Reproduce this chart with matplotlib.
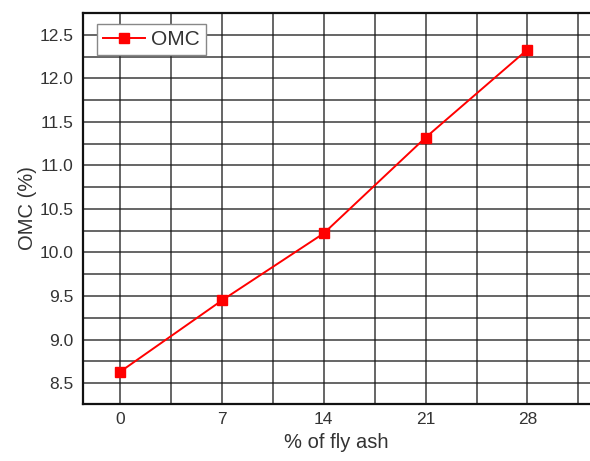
import matplotlib
matplotlib.use('Agg')
import matplotlib.pyplot as plt
from matplotlib.ticker import MultipleLocator

# ── DATA ──
fly_ash = [0, 7, 14, 21, 28]
omc = [8.63, 9.45, 10.22, 11.32, 12.33]
x_ticks = [0, 7, 14, 21, 28]
y_ticks = [8.5, 9.0, 9.5, 10.0, 10.5, 11.0, 11.5, 12.0, 12.5]

RED = '#ff0000'
TXT = '#333333'

plt.rcParams['font.family'] = ['Liberation Sans', 'DejaVu Sans']

fig = plt.figure(figsize=(5.9, 4.61), dpi=100)
ax = fig.add_axes([0.1407, 0.1236, 0.8593, 0.8482])

ax.plot(fly_ash, omc, color=RED, lw=1.4, marker='s', ms=6.5,
        mec=RED, mfc=RED, label='OMC', zorder=5)

ax.set_xlim(-2.55, 32.3)
ax.set_ylim(8.26, 12.75)
ax.set_xticks(x_ticks)
ax.xaxis.set_minor_locator(MultipleLocator(3.5))
ax.yaxis.set_minor_locator(MultipleLocator(0.25))
ax.set_yticks(y_ticks)
ax.set_yticklabels([f'{v:.1f}' for v in y_ticks])

ax.grid(True, which='both', color='#1a1a1a', lw=1.1, alpha=0.85)
ax.set_axisbelow(True)
ax.tick_params(which='both', length=0, labelsize=12.5, colors=TXT)
ax.tick_params(axis='y', pad=7)
ax.tick_params(axis='x', pad=6)

for s in ['left', 'bottom', 'top']:
    ax.spines[s].set_color('#111111')
    ax.spines[s].set_linewidth(1.6)
ax.spines['right'].set_visible(False)

ax.set_xlabel('% of fly ash', fontsize=14.5, color=TXT, labelpad=4)
ax.set_ylabel('OMC (%)', fontsize=14.5, color=TXT, labelpad=2)

leg = ax.legend(loc='upper left', fontsize=15, frameon=True, fancybox=False,
                handlelength=2.0, borderpad=0.3, handletextpad=0.3,
                borderaxespad=0, bbox_to_anchor=(0.028, 0.972))
leg.get_frame().set_edgecolor('#888888')
leg.get_frame().set_linewidth(1.0)
leg.get_frame().set_alpha(1.0)
for t in leg.get_texts():
    t.set_color(TXT)

fig.savefig('out.png', dpi=100)
